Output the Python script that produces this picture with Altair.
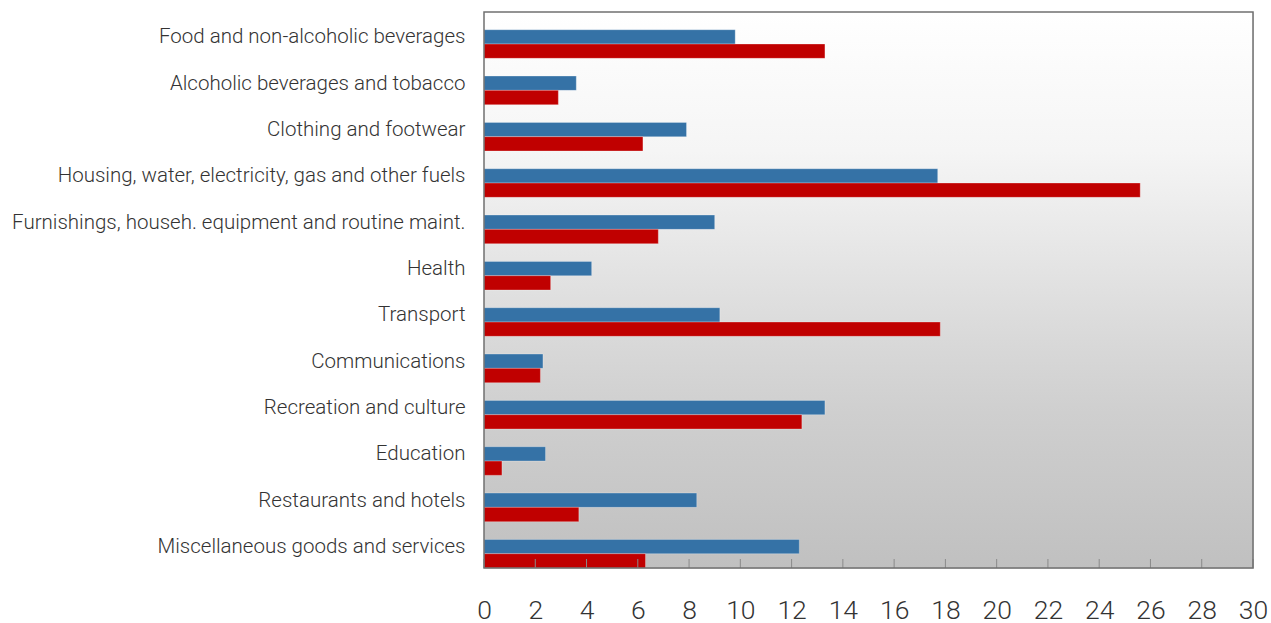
import altair as alt
import pandas as pd

categories = [
    "Food and non-alcoholic beverages",
    "Alcoholic beverages and tobacco",
    "Clothing and footwear",
    "Housing, water, electricity, gas and other fuels",
    "Furnishings, househ. equipment and routine maint.",
    "Health",
    "Transport",
    "Communications",
    "Recreation and culture",
    "Education",
    "Restaurants and hotels",
    "Miscellaneous goods and services",
]
series_names = ["A", "B"]
blue_values = [9.8, 3.6, 7.9, 17.7, 9.0, 4.2, 9.2, 2.3, 13.3, 2.4, 8.3, 12.3]
red_values = [13.3, 2.9, 6.2, 25.6, 6.8, 2.6, 17.8, 2.2, 12.4, 0.7, 3.7, 6.3]
tick_values = list(range(0, 31, 2))

rows = []
for c, b, r in zip(categories, blue_values, red_values):
    rows.append({"category": c, "series": series_names[0], "value": b})
    rows.append({"category": c, "series": series_names[1], "value": r})
df = pd.DataFrame(rows)
ticks_df = pd.DataFrame({"t": tick_values})
bg_df = pd.DataFrame({"k": [0]})

W, H = 769, 556
FONT = "Roboto"

xscale = alt.Scale(domain=[0, 30], nice=False, zero=True)

gradient = alt.LinearGradient(
    gradient="linear", x1=0, y1=0, x2=0, y2=1,
    stops=[
        alt.GradientStop(offset=0, color="#ffffff"),
        alt.GradientStop(offset=0.25, color="#f5f5f5"),
        alt.GradientStop(offset=0.6, color="#d8d8d8"),
        alt.GradientStop(offset=0.72, color="#cfcfcf"),
        alt.GradientStop(offset=1, color="#c0c0c0"),
    ],
)

background = alt.Chart(bg_df).mark_rect(color=gradient).encode(
    x=alt.value(0), x2=alt.value(W), y=alt.value(0), y2=alt.value(H)
)

bars = alt.Chart(df).mark_bar(stroke="#ffffff", strokeOpacity=0.35, strokeWidth=0.8).encode(
    x=alt.X("value:Q", scale=xscale,
            axis=alt.Axis(values=tick_values, grid=False, domain=False, ticks=False,
                          labelFontSize=26.5, labelFont=FONT, labelFontWeight=300,
                          labelColor="#333333", labelPadding=29, labelFlush=False,
                          labelOverlap=False, labelBound=False, title=None)),
    y=alt.Y("category:N", sort=categories,
            scale=alt.Scale(paddingInner=0, paddingOuter=0),
            axis=alt.Axis(domain=False, ticks=False, labelFontSize=20.5, labelFont=FONT,
                          labelFontWeight=300, labelColor="#333333", labelPadding=19,
                          labelOffset=2, labelLimit=600, title=None)),
    yOffset=alt.YOffset("series:N", sort=series_names,
                        scale=alt.Scale(paddingInner=0, paddingOuter=0.62, align=1)),
    color=alt.Color("series:N", sort=series_names,
                    scale=alt.Scale(domain=series_names, range=["#3572a6", "#c00000"]),
                    legend=None),
)

tick_marks = alt.Chart(ticks_df).mark_rule(color="#8a8a8a", strokeWidth=1).encode(
    x=alt.X("t:Q", scale=xscale),
    y=alt.value(H - 9),
    y2=alt.value(H),
)

frame = alt.Chart(bg_df).mark_rect(fill=None, stroke="#707070", strokeWidth=1.5).encode(
    x=alt.value(0), x2=alt.value(W), y=alt.value(0), y2=alt.value(H)
)

chart = alt.layer(background, bars, tick_marks, frame).properties(
    width=W,
    height=H,
    autosize=alt.AutoSizeParams(type="none"),
    padding={"left": 484, "top": 12, "right": 18, "bottom": 55},
).configure_view(
    strokeWidth=0,
).configure(background="#ffffff")

chart.save("out.html", embed_options={"renderer": "svg", "actions": False})
